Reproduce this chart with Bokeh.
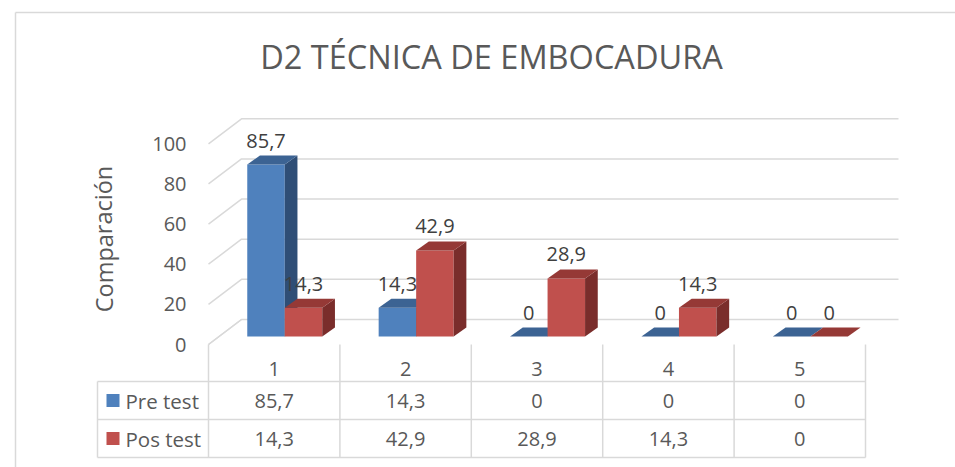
from bokeh.plotting import figure
from bokeh.models import Range1d
from bokeh.core.properties import value
from bokeh.embed import file_html
from bokeh.resources import INLINE

# ---------------- data ----------------
title_text = "D2 TÉCNICA DE EMBOCADURA"
y_title = "Comparación"
categories = ["1", "2", "3", "4", "5"]
series_names = ["Pre test", "Pos test"]
pre_test = [85.7, 14.3, 0, 0, 0]
pos_test = [14.3, 42.9, 28.9, 14.3, 0]
y_ticks = [0, 20, 40, 60, 80, 100]

series_values = [pre_test, pos_test]
front_colors = ["#4F81BD", "#C0504D"]
top_colors = ["#3C6393", "#953936"]
side_colors = ["#2F4E76", "#7A2D2B"]

def fmt(v):
    return ("%g" % v).replace(".", ",")

# ---------------- layout (page pixels -> data units) ----------------
W, H = 955, 467
PAGE = 0
X0 = 208.0      # floor front-left x (px)
PXC = 131.4     # px per category
Y0 = 344.0      # value 0 on floor front edge (px)
PXU = 2.007     # px per value unit
SLOPE = 1.32    # x shift per px of depth rise

def X(px):
    return 0.5 + (px - X0) / PXC

def Y(py):
    return (Y0 - py) / PXU

def DX(px):
    return px / PXC

def DY(px):
    return px / PXU

BW = DX(37.5)                       # bar width
FDX, FDY = DX(8 * SLOPE), DY(8)     # bar front depth shift
BDX, BDY = DX(12.7), DY(9)          # bar depth
WDX, WDY = DX(33), DY(25)           # back wall depth

p = figure(width=W, height=H, output_backend="svg", toolbar_location=None,
           x_range=Range1d(X(PAGE), X(PAGE + W)),
           y_range=Range1d(Y(PAGE + H), Y(PAGE)),
           x_axis_location=None, y_axis_location=None, min_border=0)
p.grid.visible = False
p.outline_line_color = None
p.background_fill_color = "white"
p.border_fill_color = "white"

FONT = value("Open Sans")
GRID = "#D9D9D9"
TXT = "#595959"

# chart area border
p.multi_line(xs=[[X(15), X(960)], [X(15), X(15)]],
             ys=[[Y(12), Y(12)], [Y(12), Y(470)]],
             line_color=GRID, line_width=1.5)

# title
p.text(x=[X(491)], y=[Y(55.5)], text=[title_text], text_font=FONT,
       text_font_size="32.5px", text_color=TXT, text_align="center",
       text_baseline="middle")

# back wall gridlines and side-wall diagonals
n = len(categories)
gx, gy = [], []
for t in y_ticks:
    gx.append([0.5, 0.5 + WDX, n + 0.5 + WDX])
    gy.append([t, t + WDY, t + WDY])
p.multi_line(xs=gx, ys=gy, line_color=GRID, line_width=1.5)

# y tick labels
p.text(x=[X(186)] * len(y_ticks), y=[t - DY(0) for t in y_ticks],
       text=[str(t) for t in y_ticks], text_font=FONT, text_font_size="20px",
       text_color=TXT, text_align="right", text_baseline="middle")

# y axis title
p.text(x=[X(103)], y=[Y(238.5)], text=[y_title], text_font=FONT,
       text_font_size="23.5px", text_color=TXT, text_align="center",
       text_baseline="middle", angle=1.5708)

# bars
for s, vals in enumerate(series_values):
    xl = [i + 1 - BW + s * BW + FDX for i in range(n)]
    xr = [a + BW for a in xl]
    yb = [FDY] * n
    yt = [v + FDY for v in vals]
    p.quad(left=xl, right=xr, bottom=yb, top=yt,
           fill_color=front_colors[s], line_color=None)
    side_x = [[r, r + BDX, r + BDX, r] for r in xr]
    side_y = [[b, b + BDY, t + BDY, t] for b, t in zip(yb, yt)]
    p.patches(xs=side_x, ys=side_y, fill_color=side_colors[s], line_color=None)
    top_x = [[l, r, r + BDX, l + BDX] for l, r in zip(xl, xr)]
    top_y = [[t, t, t + BDY, t + BDY] for t in yt]
    p.patches(xs=top_x, ys=top_y, fill_color=top_colors[s], line_color=None)

# data labels
for s, vals in enumerate(series_values):
    xl = [i + 1 - BW + s * BW + FDX for i in range(n)]
    p.text(x=[a + BW / 2 for a in xl], y=[v + FDY + DY(24) for v in vals],
           text=[fmt(v) for v in vals], text_font=FONT, text_font_size="20px",
           text_color="#404040", text_align="center", text_baseline="middle")

# data table
ROW_TOP, ROW1, ROW2 = 381, 419, 457
tx, ty = [], []
for yy in (ROW_TOP, ROW1, ROW2):
    tx.append([X(97), n + 0.5])
    ty.append([Y(yy), Y(yy)])
tx.append([X(97), X(97)])
ty.append([Y(ROW_TOP), Y(ROW2)])
for k in range(n + 1):
    tx.append([k + 0.5, k + 0.5])
    ty.append([0, Y(ROW2)])
tx.append([0.5, 0.5 + WDX])
ty.append([0, WDY])
p.multi_line(xs=tx, ys=ty, line_color=GRID, line_width=1.5)

cats_x = [i + 1 for i in range(n)]
p.text(x=cats_x, y=[Y(368)] * n, text=categories, text_font=FONT,
       text_font_size="20px", text_color=TXT, text_align="center",
       text_baseline="middle")
row_centers = [400, 438]
for s, vals in enumerate(series_values):
    yc = row_centers[s]
    p.text(x=cats_x, y=[Y(yc)] * n, text=[fmt(v) for v in vals],
           text_font=FONT, text_font_size="20px", text_color=TXT,
           text_align="center", text_baseline="middle")
    p.text(x=[X(125)], y=[Y(yc)], text=[series_names[s]], text_font=FONT,
           text_font_size="20.5px", text_color=TXT, text_align="left",
           text_baseline="middle")
    p.quad(left=[X(106)], right=[X(119)], bottom=[Y(yc + 6.5)], top=[Y(yc - 6.5)],
           fill_color=front_colors[s], line_color=None)

open("out.html", "w").write(file_html(p, INLINE))
